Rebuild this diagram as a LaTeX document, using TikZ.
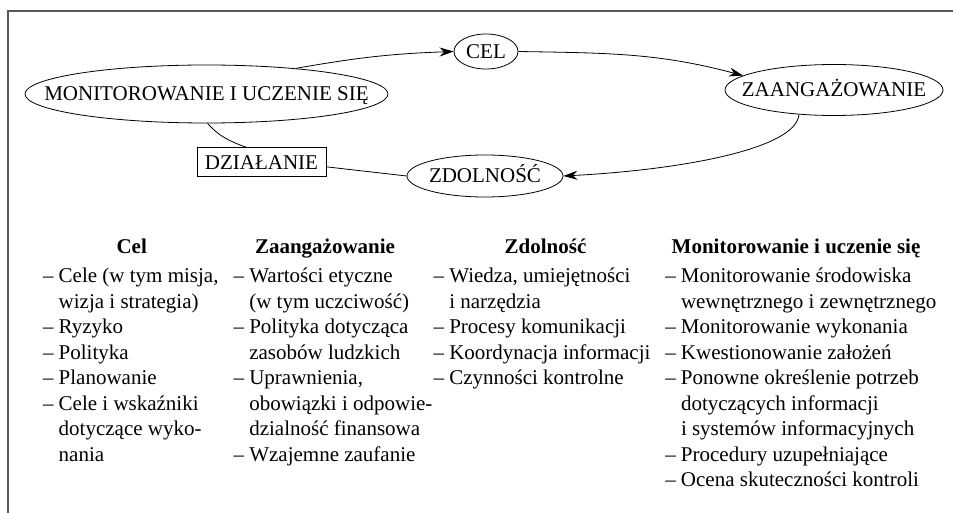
\documentclass[tikz,border=0pt]{standalone}
\usepackage{fontspec}
\setmainfont{Liberation Serif}
\usepackage{tikz}
\usetikzlibrary{shapes.geometric,arrows.meta}

\newcommand{\pk}{\makebox[7.8pt][l]{--}}
\newcommand{\dl}{\hspace*{7.8pt}}

\begin{document}
\begin{tikzpicture}[x=0.5pt, y=0.5pt, font = \fontsize{10.5}{12.75}\selectfont,
        >={Stealth[length=7pt,width=4.5pt]},
        elipsa/.style = {ellipse, draw, inner xsep=-40pt, inner ysep=0pt, text height=6.95pt, text depth=0pt},
        ramka/.style = {line width=0.6pt, black!65},
        naglowek/.style = {font=\fontsize{10.5}{12.75}\selectfont\bfseries, anchor=base},
        lista/.style = {anchor=base west, inner sep=0pt}]
        \useasboundingbox (0,0) rectangle (953,-513);
        \draw[ramka] (8,-513) -- (8,-11) -- (953,-11);

        \node[elipsa, minimum width=181.5pt, minimum height=29pt] (mon) at (206.5,-94) {MONITOROWANIE I UCZENIE SIĘ};
        \node[elipsa, minimum width=32pt, minimum height=17.5pt] (cel) at (486,-51.5) {CEL};
        \node[elipsa, minimum width=109pt, minimum height=25.5pt] (zaang) at (834,-90) {ZAANGAŻOWANIE};
        \node[elipsa, minimum width=78pt, minimum height=21pt] (zdol) at (485,-176) {ZDOLNOŚĆ};
        \node[draw, inner sep=0pt, minimum width=64.5pt, minimum height=14.5pt, text height=6.95pt, text depth=0pt] (dzial) at (261.5,-162.3) {DZIAŁANIE};

        \draw[->] (mon.16) to[out=10,in=182] (cel.west);
        \draw[->] (cel.east) to[out=-1,in=165] (zaang.171);
        \draw[->] (zaang.215) .. controls +(-3,-35) and +(115,6) .. (zdol.east);
        \draw (mon.-88) to[out=-48,in=160] (dzial.135);
        \draw (dzial.-4) -- (zdol.west);

        \node[naglowek] (hcel) at (131.7,-253.3) {Cel};
        \node[naglowek] (hzaang) at (325,-253.3) {Zaangażowanie};
        \node[naglowek] (hzdol) at (545.5,-253.3) {Zdolność};
        \node[naglowek] (hmon) at (796,-253.3) {Monitorowanie i uczenie się};

        \node[lista] (lcel) at (42.7,-282.7) {\begin{tabular}[t]{@{}l@{}}
            \pk Cele (w tym misja,\\ \dl wizja i strategia)\\ \pk Ryzyko\\ \pk Polityka\\ \pk Planowanie\\
            \pk Cele i wskaźniki\\ \dl dotyczące wyko-\\ \dl nania\end{tabular}};
        \node[lista] (lzaang) at (233.3,-282.7) {\begin{tabular}[t]{@{}l@{}}
            \pk Wartości etyczne\\ \dl (w tym uczciwość)\\ \pk Polityka dotycząca\\ \dl zasobów ludzkich\\
            \pk Uprawnienia,\\ \dl obowiązki i odpowie-\\ \dl dzialność finansowa\\ \pk Wzajemne zaufanie\end{tabular}};
        \node[lista] (lzdol) at (433.3,-282.7) {\begin{tabular}[t]{@{}l@{}}
            \pk Wiedza, umiejętności\\ \dl i narzędzia\\ \pk Procesy komunikacji\\ \pk Koordynacja informacji\\
            \pk Czynności kontrolne\end{tabular}};
        \node[lista] (lmon) at (665,-282.7) {\begin{tabular}[t]{@{}l@{}}
            \pk Monitorowanie środowiska\\ \dl wewnętrznego i zewnętrznego\\ \pk Monitorowanie wykonania\\
            \pk Kwestionowanie założeń\\ \pk Ponowne określenie potrzeb\\ \dl dotyczących informacji\\
            \dl i systemów informacyjnych\\ \pk Procedury uzupełniające\\ \pk Ocena skuteczności kontroli\end{tabular}};
    \end{tikzpicture}
\end{document}
